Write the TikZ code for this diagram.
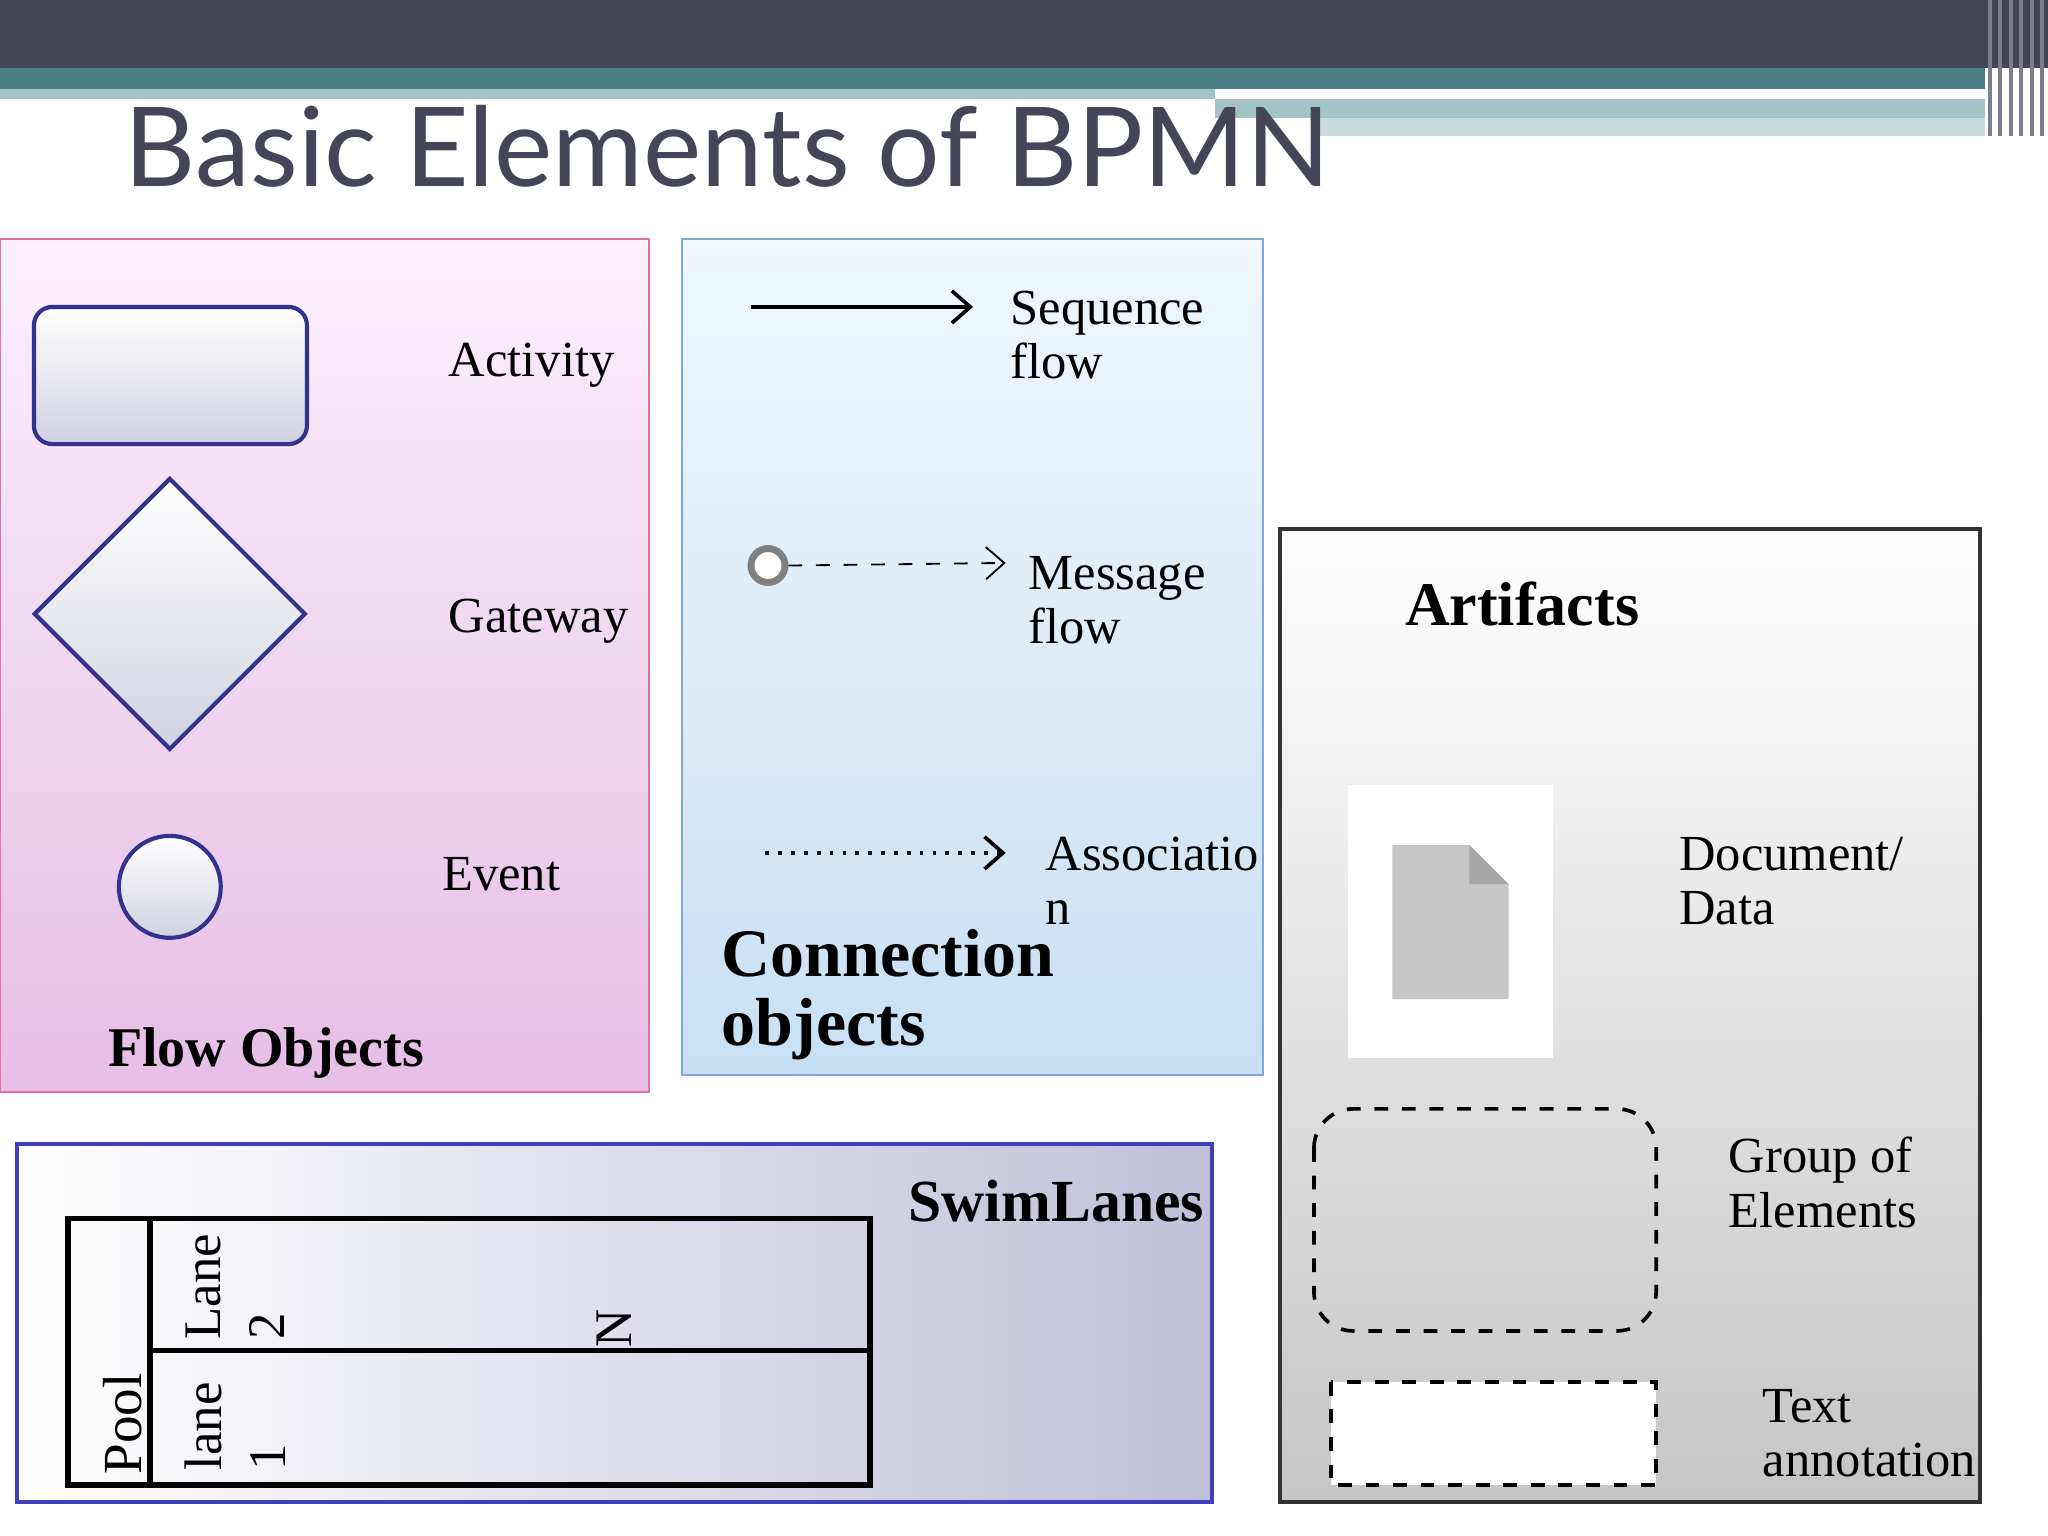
\documentclass[tikz,border=0pt]{standalone}
\usepackage{fontspec}
\setmainfont{Liberation Serif}
\newfontfamily\titlefont{Lato}
\usetikzlibrary{arrows.meta,shapes.geometric}
\definecolor{hdr}{HTML}{45455A}
\definecolor{teal}{HTML}{4A8086}
\definecolor{lteal}{HTML}{A3C3C6}
\definecolor{pinkbot}{HTML}{E6BEE6}
\definecolor{pinktop}{HTML}{FBF0FB}
\definecolor{bluebot}{HTML}{C8E0F4}
\definecolor{bluetop}{HTML}{F0F7FD}
\tikzset{
 lbl/.style={anchor=north west,align=left,font=\fontsize{11}{11.8}\selectfont,inner sep=0pt},
 blbl/.style={anchor=north west,align=left,font=\fontsize{12.2}{13}\selectfont\bfseries,inner sep=0pt},
 rot/.style={rotate=90,align=left,font=\fontsize{11.5}{14}\selectfont,inner sep=0pt},
 shp/.style={draw=black!40!blue!60!gray,line width=0.9pt,top color=white,bottom color=blue!18!gray!30},
 tip/.style={-{Straight Barb[length=4pt,width=7pt]}},
}
\begin{document}
\begin{tikzpicture}[x=0.01cm,y=-0.01cm]
\useasboundingbox (0,0) rectangle (1568,1176);
\fill[white] (0,0) rectangle (1568,1176);
% header
\fill[hdr] (0,0) rectangle (1568,52);
\fill[teal] (0,52) rectangle (1520,68);
\fill[lteal] (0,68) rectangle (930,76);
\fill[lteal] (930,76) rectangle (1520,90);
\fill[lteal!60] (1010,90) rectangle (1520,104);
\foreach \x in {1522,1530,1538,1546,1554,1562} \fill[hdr!70] (\x,0) rectangle (\x+3,104);
\node[anchor=base west,inner sep=0pt,text=hdr,font=\titlefont\fontsize{24}{24}\selectfont] (title) at (95,143) {Basic Elements of BPMN};
% Flow objects
\draw[draw=magenta!50!purple!60,top color=pinktop,bottom color=pinkbot] (0,183) rectangle (497,836);
\draw[shp,rounded corners=0.14cm] (26,235) rectangle (235,340);
\node[diamond,shp,minimum width=2.08cm,minimum height=2.08cm,inner sep=0pt] (gw) at (130,470) {};
\node[circle,shp,minimum size=0.78cm,inner sep=0pt] (ev) at (130,679) {};
\node[lbl] (a1) at (343,262) {Activity};
\node[lbl] (a2) at (343,458) {Gateway};
\node[lbl] (a3) at (338,656) {Event};
\node[blbl] (fo) at (82,786) {Flow Objects};
% Connection objects
\draw[draw=cyan!50!blue!50,top color=bluetop,bottom color=bluebot] (522,183) rectangle (967,823);
\coordinate (s1) at (575,235); \coordinate (s2) at (745,235);
\draw[tip,thick] (s1) -- (s2);
\node[lbl] (sq) at (773,222) {Sequence\\flow};
\node[circle,draw=gray,line width=1.5pt,minimum size=0.26cm,inner sep=0pt,fill=white] (mc) at (588,433) {};
\coordinate (m2) at (770,431);
\draw[dashed,tip] (mc.east) -- (m2);
\node[lbl] (mf) at (787,425) {Message\\flow};
\coordinate (d1) at (586,653); \coordinate (d2) at (770,653);
\draw[dotted,thick,tip] (d1) -- (d2);
\node[lbl] (as) at (800,640) {Associatio\\n};
\node[anchor=north west,align=left,inner sep=0pt,font=\fontsize{14.8}{15}\selectfont\bfseries] (co) at (552,711) {Connection\\objects};
% Artifacts
\draw[draw=black!80,line width=1pt,top color=white,bottom color=gray!45] (980,405) rectangle (1516,1150);
\node[blbl,font=\fontsize{13.5}{14}\selectfont\bfseries] (art) at (1075,445) {Artifacts};
\fill[white] (1032,601) rectangle (1189,810);
\fill[gray!45] (1066,647) -- (1125,647) -- (1155,677) -- (1155,765) -- (1066,765) -- cycle;
\fill[gray!70] (1125,647) -- (1155,677) -- (1125,677) -- cycle;
\node[lbl] (dd) at (1285,640) {Document/\\Data};
\draw[dashed,thick,rounded corners=0.3cm] (1006,849) rectangle (1268,1019);
\node[lbl] (ge) at (1323,870) {Group of\\Elements};
\draw[dashed,thick,fill=white] (1019,1058) rectangle (1268,1137);
\node[lbl] (ta) at (1349,1063) {Text\\annotation};
% Swimlanes
\draw[draw=blue!50!gray,line width=0.9pt,left color=white,right color=blue!25!gray!40] (13,876) rectangle (928,1150);
\node[blbl,font=\fontsize{13}{13}\selectfont\bfseries] (sl) at (695,903) {SwimLanes};
\draw[line width=1.2pt] (52,933) rectangle (666,1137);
\draw[line width=1.2pt] (115,933) -- (115,1137);
\draw[line width=1.2pt] (115,1034) -- (666,1034);
\node[rot,font=\fontsize{12}{14}\selectfont] (pool) at (94,1090) {Pool};
\node[rot] (l2) at (180,985) {Lane\\2};
\node[rot] (l1) at (180,1092) {lane\\1};
\node[rot] (nz) at (470,1017) {N};
\end{tikzpicture}
\end{document}
